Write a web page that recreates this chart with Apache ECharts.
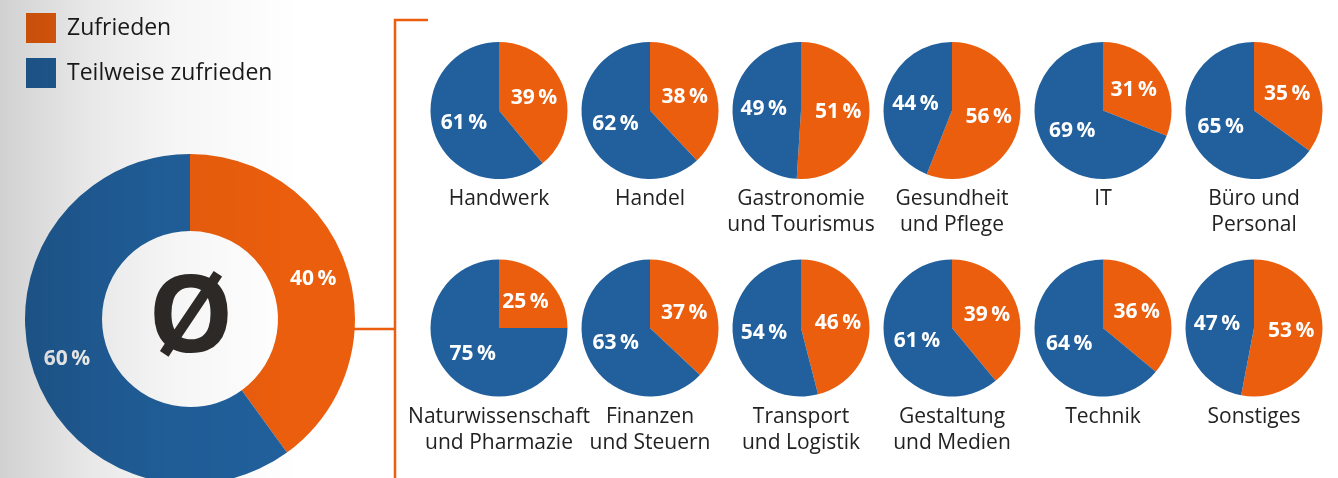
<!DOCTYPE html>
<html>
<head>
<meta charset="utf-8">
<script src="https://cdn.jsdelivr.net/npm/echarts@6/dist/echarts.min.js"></script>
<style>
  html, body { margin: 0; padding: 0; background: #ffffff; }
  #chart { width: 1338px; height: 478px; }
</style>
</head>
<body>
<div id="chart"></div>
<script>
// Zufriedenheit nach Branche (Angaben in Prozent)
const seriesNames = ['Zufrieden', 'Teilweise zufrieden'];
const categories = [
  'Handwerk', 'Handel', 'Gastronomie\nund Tourismus', 'Gesundheit\nund Pflege', 'IT', 'Büro und\nPersonal',
  'Naturwissenschaft\nund Pharmazie', 'Finanzen\nund Steuern', 'Transport\nund Logistik', 'Gestaltung\nund Medien', 'Technik', 'Sonstiges'
];
const zufrieden =          [39, 38, 51, 56, 31, 35, 25, 37, 46, 39, 36, 53];
const teilweiseZufrieden = [61, 62, 49, 44, 69, 65, 75, 63, 54, 61, 64, 47];
const average = [40, 60];
const averageSymbol = 'Ø';

// Farben und Layout
const ORANGE = '#EB5E0D';
const BLUE = '#21609C';
const FONT = '"Open Sans", "Noto Sans", sans-serif';
const colX = [499, 650, 801, 952, 1103, 1254];
const rowY = [110.5, 328];
const pieR = 68.5;
const donutCenter = [190, 319];

const pctLabel = {
  show: true,
  position: 'inside',
  formatter: p => p.value + '\u2009%',
  color: '#ffffff',
  fontFamily: FONT,
  fontWeight: 'bold',
  fontSize: 21
};

function slices(a, b) {
  return [
    { name: seriesNames[0], value: a, itemStyle: { color: ORANGE } },
    { name: seriesNames[1], value: b, itemStyle: { color: BLUE } }
  ];
}

const series = [];
const titles = [];

categories.forEach((cat, i) => {
  const cx = colX[i % 6];
  const cy = rowY[Math.floor(i / 6)];
  series.push({
    type: 'pie',
    center: [cx, cy],
    radius: [0, pieR],
    startAngle: 90,
    clockwise: true,
    avoidLabelOverlap: false,
    silent: true,
    itemStyle: { borderWidth: 0 },
    label: pctLabel,
    labelLine: { show: false },
    emphasis: { disabled: true },
    data: slices(zufrieden[i], teilweiseZufrieden[i])
  });
  titles.push({
    text: cat,
    left: cx,
    top: cy + 76,
    textAlign: 'center',
    padding: 0,
    textStyle: {
      fontFamily: FONT,
      fontWeight: 'normal',
      fontSize: 21,
      lineHeight: 26,
      color: '#222222'
    }
  });
});

// Gesamtdurchschnitt als Ring
series.push({
  type: 'pie',
  center: donutCenter,
  radius: [88, 165],
  startAngle: 90,
  clockwise: true,
  avoidLabelOverlap: false,
  silent: true,
  itemStyle: { borderWidth: 0 },
  label: pctLabel,
  labelLine: { show: false },
  emphasis: { disabled: true },
  data: slices(average[0], average[1])
});

const chart = echarts.init(document.getElementById('chart'), null, { renderer: 'canvas' });
chart.setOption({
  backgroundColor: '#ffffff',
  animation: false,
  title: titles,
  legend: {
    data: seriesNames,
    orient: 'vertical',
    left: 26,
    top: 13,
    padding: 0,
    itemWidth: 30,
    itemHeight: 30,
    itemGap: 15,
    icon: 'rect',
    selectedMode: false,
    textStyle: {
      fontFamily: FONT,
      fontSize: 23,
      color: '#1a1a1a',
      padding: [0, 0, 0, 6]
    }
  },
  series: series,
  graphic: [
    {
      type: 'text',
      x: 191,
      y: 321,
      z: 10,
      silent: true,
      style: {
        text: averageSymbol,
        font: 'bold 108px ' + FONT,
        fill: '#2e2a27',
        align: 'center',
        verticalAlign: 'middle'
      }
    },
    {
      // Klammer zu den Branchen
      type: 'polyline',
      z: 10,
      silent: true,
      shape: { points: [[428, 20], [395, 20], [395, 478]] },
      style: { stroke: ORANGE, lineWidth: 2.5, fill: null }
    },
    {
      type: 'line',
      z: 10,
      silent: true,
      shape: { x1: 354, y1: 329, x2: 395, y2: 329 },
      style: { stroke: ORANGE, lineWidth: 2.5 }
    },
    {
      // grauer Verlauf am linken Rand
      type: 'rect',
      z: 100,
      silent: true,
      shape: { x: 0, y: 0, width: 300, height: 478 },
      style: {
        fill: new echarts.graphic.LinearGradient(0, 0, 1, 0, [
          { offset: 0, color: 'rgba(0,0,0,0.18)' },
          { offset: 0.3, color: 'rgba(0,0,0,0.09)' },
          { offset: 0.6, color: 'rgba(0,0,0,0.035)' },
          { offset: 1, color: 'rgba(0,0,0,0)' }
        ])
      }
    }
  ]
});
</script>
</body>
</html>
